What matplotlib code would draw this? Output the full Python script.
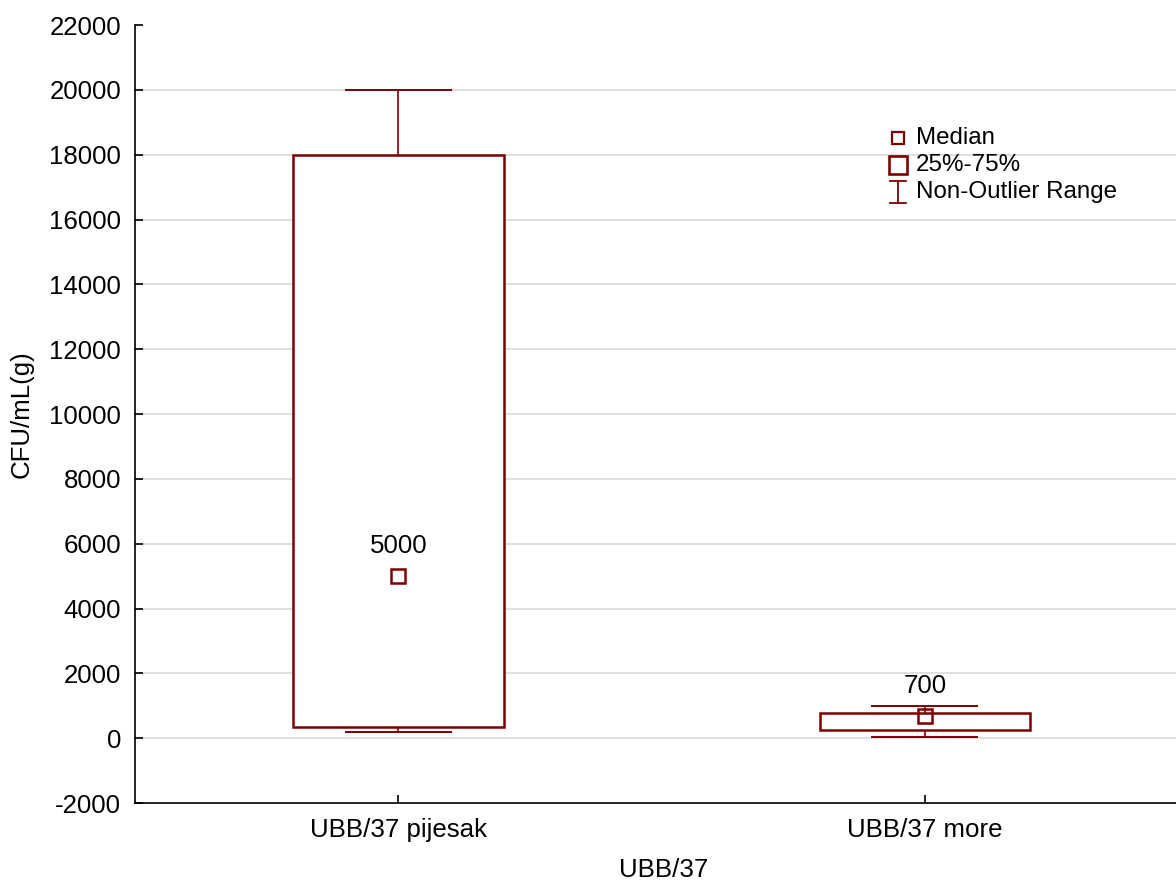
import matplotlib
matplotlib.use("Agg")
import matplotlib.pyplot as plt

plt.rcParams['font.family'] = ['Liberation Sans', 'DejaVu Sans']
plt.rcParams['axes.unicode_minus'] = False

# ── Data ────────────────────────────────────────────────────────────────────
groups   = ['UBB/37 pijesak', 'UBB/37 more']
medians  = [5000, 700]
q1       = [350, 250]
q3       = [18000, 780]
wlow     = [200, 50]
whigh    = [20000, 1000]
yticks   = list(range(-2000, 22001, 2000))
legend_labels = ['Median', '25%-75%', 'Non-Outlier Range']

RED = '#7f0000'
FS = 18.6

fig = plt.figure(figsize=(11.76, 8.81), dpi=100)
ax = fig.add_axes([0.1148, 0.0885, 0.8852, 0.8831])

# horizontal grid (no line at top edge)
for t in yticks[1:-1]:
    ax.axhline(t, color='#d9d9d9', linewidth=1.2, zorder=0)

xs = [1, 2]
for x, md, a, b, lo, hi in zip(xs, medians, q1, q3, wlow, whigh):
    ax.add_patch(plt.Rectangle((x - 0.2, a), 0.4, b - a, facecolor='white',
                               edgecolor=RED, linewidth=1.8, zorder=2))
    ax.plot([x, x], [b, hi], color=RED, linewidth=1.2, zorder=1.5)
    ax.plot([x, x], [lo, a], color=RED, linewidth=1.2, zorder=1.5)
    ax.plot([x - 0.1, x + 0.1], [hi, hi], color=RED, linewidth=1.4, zorder=1.5)
    ax.plot([x - 0.1, x + 0.1], [lo, lo], color=RED, linewidth=1.4, zorder=1.5)
    ax.plot(x, md, marker='s', markersize=10.5, markerfacecolor='none',
            markeredgecolor=RED, markeredgewidth=1.8, zorder=3)
    ax.annotate(f'{md}', (x, md), xytext=(0, 21.5), textcoords='offset points',
                ha='center', va='center', fontsize=FS)

ax.set_xlim(0.5, 2.477)
ax.set_ylim(-2000, 22000)
ax.set_xticks(xs)
ax.set_xticklabels(groups)
ax.set_yticks(yticks)
ax.tick_params(direction='in', labelsize=FS, length=6, width=1.2, pad=10)
ax.tick_params(axis='x', pad=11)
for s in ['top', 'right']:
    ax.spines[s].set_visible(False)
for s in ['left', 'bottom']:
    ax.spines[s].set_linewidth(1.2)

ax.set_xlabel('UBB/37', fontsize=FS)
ax.xaxis.set_label_coords(0.508, -0.071)
ax.set_ylabel('CFU/mL(g)', fontsize=FS)
ax.yaxis.set_label_coords(-0.097, 0.5)

# legend drawn by hand in axes coordinates
tr = ax.transAxes
lx, tx = 0.733, 0.750
ly = [0.8548, 0.820, 0.785]
ax.plot(lx, ly[0], marker='s', markersize=9, markerfacecolor='none',
        markeredgecolor=RED, markeredgewidth=1.6, transform=tr, clip_on=False)
ax.plot(lx, ly[1], marker='s', markersize=13, markerfacecolor='none',
        markeredgecolor=RED, markeredgewidth=1.9, transform=tr, clip_on=False)
hw, hh = 0.0077, 0.0141
ax.plot([lx, lx], [ly[2] - hh, ly[2] + hh], color=RED, lw=1.3, transform=tr)
ax.plot([lx - hw, lx + hw], [ly[2] + hh] * 2, color=RED, lw=1.3, transform=tr)
ax.plot([lx - hw, lx + hw], [ly[2] - hh] * 2, color=RED, lw=1.3, transform=tr)
for y, lab in zip(ly, legend_labels):
    ax.text(tx, y, lab, transform=tr, ha='left', va='center', fontsize=17.4)

fig.savefig('out.png', dpi=100, facecolor='white')
